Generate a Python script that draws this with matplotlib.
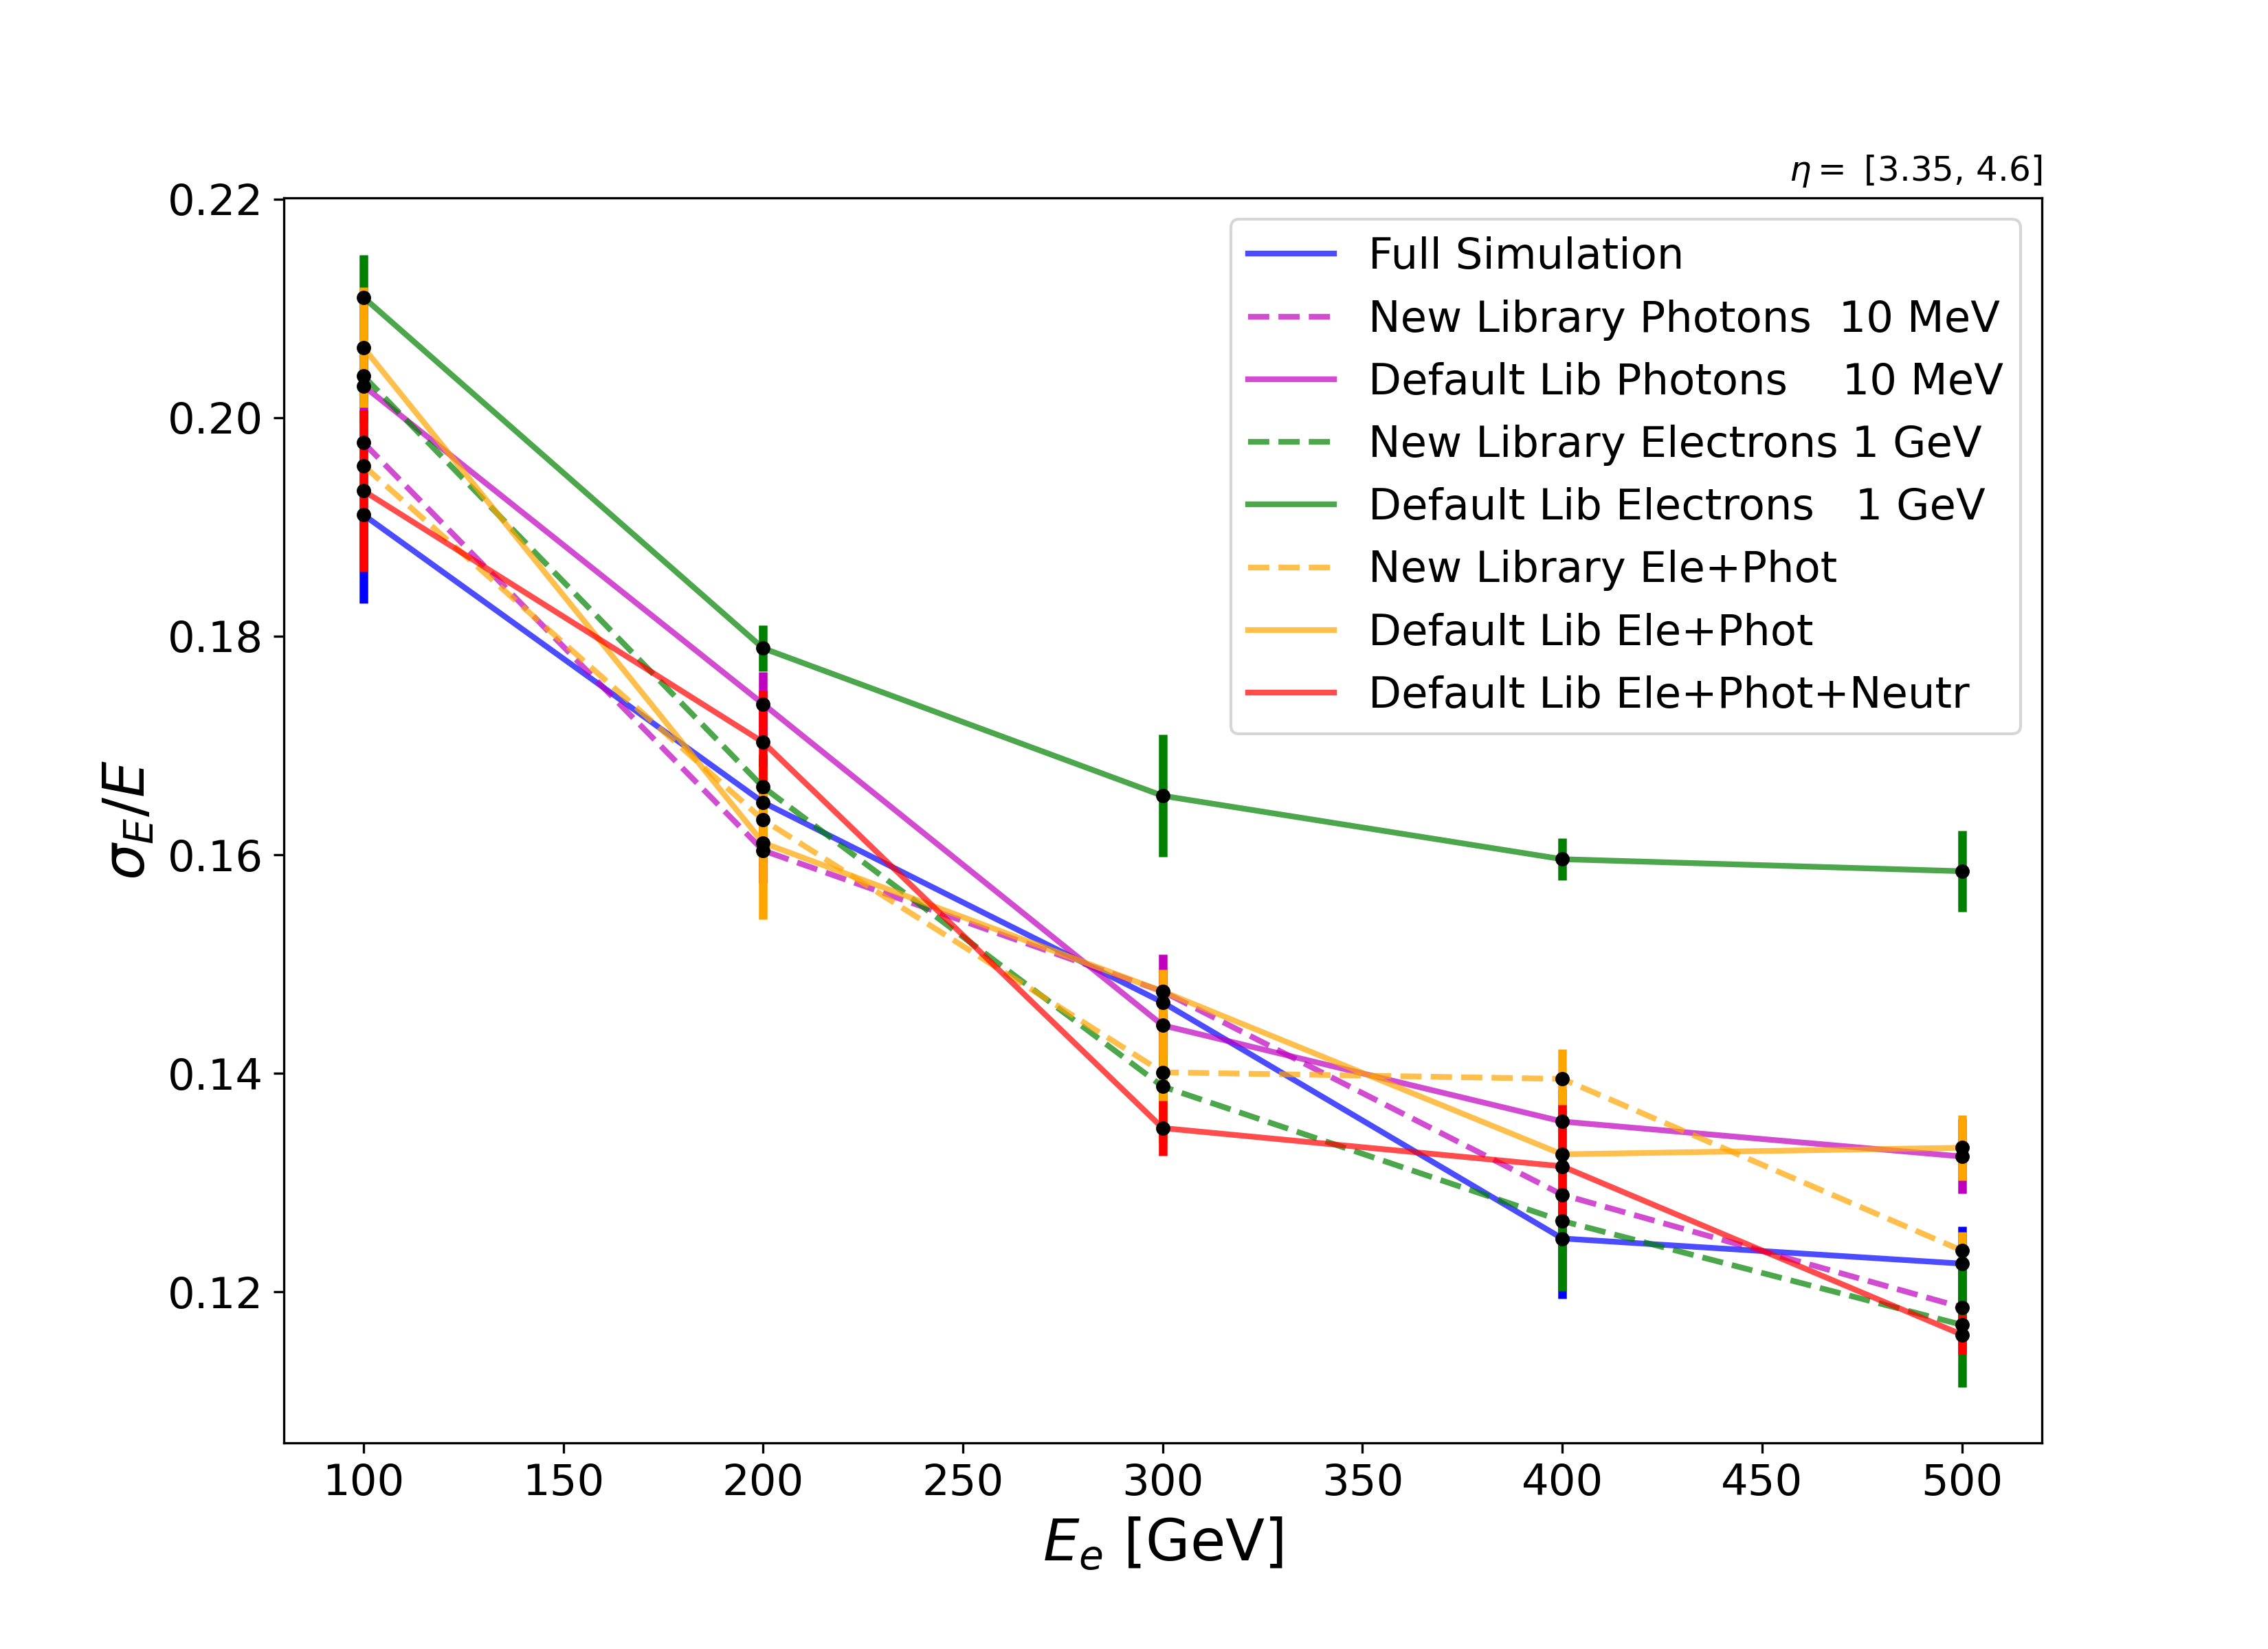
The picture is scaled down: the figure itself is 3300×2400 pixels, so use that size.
import matplotlib.pyplot as plt

energies = [100, 200, 300, 400, 500]

full_sim = [0.1911, 0.1648, 0.1465, 0.1249, 0.1226]
full_sim_err = [0.0081, 0.0040, 0.0030, 0.0055, 0.0034]

new_phot = [0.1977, 0.1604, 0.1475, 0.1289, 0.1186]
new_phot_err = [0.0030, 0.0030, 0.0034, 0.0025, 0.0025]

def_phot = [0.2029, 0.1738, 0.1444, 0.1356, 0.1324]
def_phot_err = [0.0035, 0.0029, 0.0045, 0.0030, 0.0034]

new_ele = [0.2038, 0.1662, 0.1388, 0.1265, 0.1170]
new_ele_err = [0.0025, 0.0030, 0.0030, 0.0064, 0.0057]

def_ele = [0.2110, 0.1789, 0.1654, 0.1596, 0.1585]
def_ele_err = [0.0039, 0.0021, 0.0056, 0.0019, 0.0037]

new_elephot = [0.1956, 0.1632, 0.1401, 0.1395, 0.1238]
new_elephot_err = [0.0040, 0.0030, 0.0065, 0.0027, 0.0017]

def_elephot = [0.2064, 0.1611, 0.1475, 0.1326, 0.1332]
def_elephot_err = [0.0055, 0.0070, 0.0020, 0.0030, 0.0030]

def_neutr = [0.1933, 0.1703, 0.1350, 0.1315, 0.1161]
def_neutr_err = [0.0074, 0.0047, 0.0025, 0.0056, 0.0018]

series = [
    ("Full Simulation", full_sim, full_sim_err, "b", "-"),
    ("New Library Photons  10 MeV", new_phot, new_phot_err, "m", "--"),
    ("Default Lib Photons    10 MeV", def_phot, def_phot_err, "m", "-"),
    ("New Library Electrons 1 GeV", new_ele, new_ele_err, "g", "--"),
    ("Default Lib Electrons   1 GeV", def_ele, def_ele_err, "g", "-"),
    ("New Library Ele+Phot", new_elephot, new_elephot_err, "orange", "--"),
    ("Default Lib Ele+Phot", def_elephot, def_elephot_err, "orange", "-"),
    ("Default Lib Ele+Phot+Neutr", def_neutr, def_neutr_err, "r", "-"),
]

fig, ax = plt.subplots(figsize=(11.0033, 8), dpi=300)
fig.subplots_adjust(left=0.125, right=0.9, top=0.88, bottom=0.125)

# error bars first, then the lines, dots on top of everything
for label, vals, errs, c, ls in series:
    ax.errorbar(energies, vals, yerr=errs, fmt='none', ecolor=c, elinewidth=3, capsize=0, zorder=2)
for label, vals, errs, c, ls in series:
    ax.plot(energies, vals, ls, color=c, alpha=0.7, lw=2, label=label, zorder=3)
for label, vals, errs, c, ls in series:
    ax.plot(energies, vals, 'o', color='k', ms=4, zorder=5)

ax.set_xlim(80, 520)
ax.set_ylim(0.1062, 0.2201)
ax.set_yticks([0.12, 0.14, 0.16, 0.18, 0.20, 0.22])
ax.tick_params(labelsize=15)
ax.set_xlabel('$E_e$ [GeV]', fontsize=20)
ax.set_ylabel(r'$\sigma_E/E$', fontsize=20)
ax.set_title(r'$\eta = $ [3.35, 4.6]', loc='right', fontsize=12)
ax.legend(loc='upper right', fontsize=15)

fig.savefig('out.png', dpi=300)
